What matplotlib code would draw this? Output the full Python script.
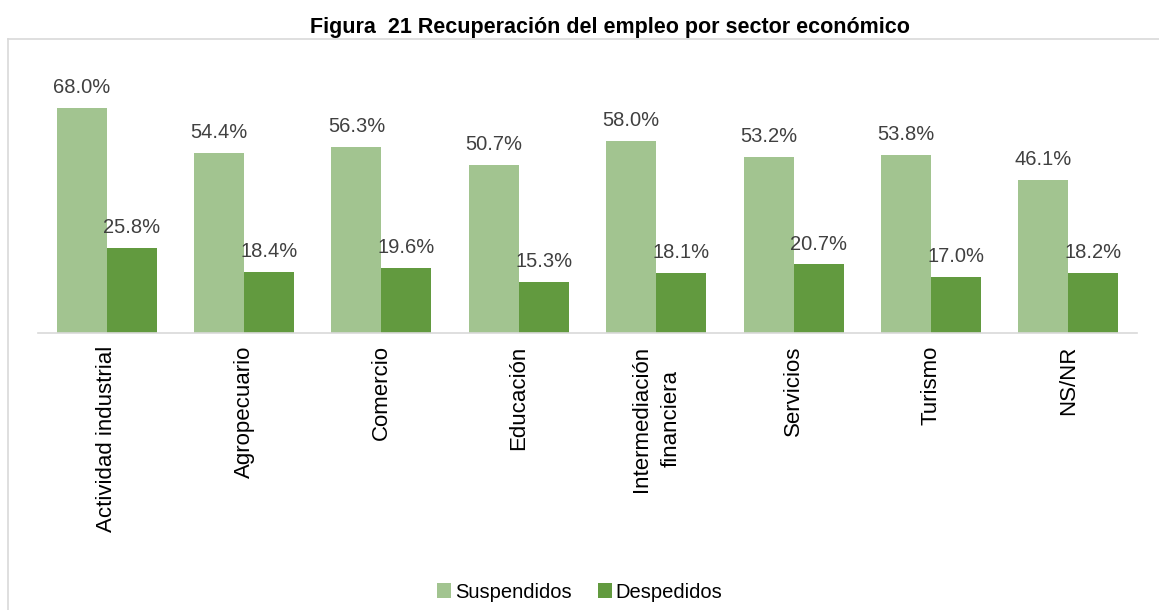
import matplotlib.pyplot as plt
from matplotlib.lines import Line2D
import numpy as np

sectores = ['Actividad industrial', 'Agropecuario', 'Comercio', 'Educación',
            'Intermediación\nfinanciera', 'Servicios', 'Turismo', 'NS/NR']
suspendidos = [68.0, 54.4, 56.3, 50.7, 58.0, 53.2, 53.8, 46.1]
despedidos = [25.8, 18.4, 19.6, 15.3, 18.1, 20.7, 17.0, 18.2]

c_light = '#A2C490'
c_dark = '#629A3F'
c_text = '#404040'

plt.rcParams['font.family'] = ['Liberation Sans', 'DejaVu Sans']

W, H = 1159, 610
fig = plt.figure(figsize=(W / 100, H / 100), dpi=100)

# plot area in pixel coords: x 38..1137, baseline y=333
ymax = 75
top_px = 333 - ymax * 3.31
ax = fig.add_axes([38 / W, 1 - 333 / H, (1137 - 38) / W, (333 - top_px) / H])

x = np.arange(len(sectores))
w = 0.364
b1 = ax.bar(x - w / 2, suspendidos, w, color=c_light, label='Suspendidos')
b2 = ax.bar(x + w / 2, despedidos, w, color=c_dark, label='Despedidos')

for bars, vals in ((b1, suspendidos), (b2, despedidos)):
    for r, v in zip(bars, vals):
        ax.text(r.get_x() + r.get_width() / 2, v + 3.3, f'{v:.1f}%',
                ha='center', va='bottom', fontsize=14.5, color=c_text, clip_on=False)

ax.set_xlim(-0.5, len(sectores) - 0.5)
ax.set_ylim(0, ymax)
ax.set_yticks([])
ax.set_xticks(x)
ax.set_xticklabels(sectores, rotation=90, fontsize=16, color='black',
                   va='top', ha='center', linespacing=1.5)
ax.tick_params(axis='x', length=0, pad=9)
for s in ['top', 'right', 'left']:
    ax.spines[s].set_visible(False)
ax.spines['bottom'].set_color('#D9D9D9')
ax.spines['bottom'].set_linewidth(1.2)

fig.text(610 / W, 1 - 27 / H, 'Figura  21 Recuperación del empleo por sector económico',
         ha='center', va='center', fontsize=15.5, fontweight='bold')

# chart frame (left and top edges visible)
fig.add_artist(Line2D([8 / W, 8 / W], [0, 1 - 39 / H], color='#D9D9D9', lw=1.2))
fig.add_artist(Line2D([8 / W, 1], [1 - 39 / H, 1 - 39 / H], color='#D9D9D9', lw=1.2))

fig.legend(handles=[b1, b2], loc='center', bbox_to_anchor=(0.5, 1 - 592 / H),
           ncol=2, frameon=False, fontsize=14.5, handlelength=0.7, handleheight=0.8,
           handletextpad=0.2, columnspacing=1.3)

fig.savefig('out.png', dpi=100)
